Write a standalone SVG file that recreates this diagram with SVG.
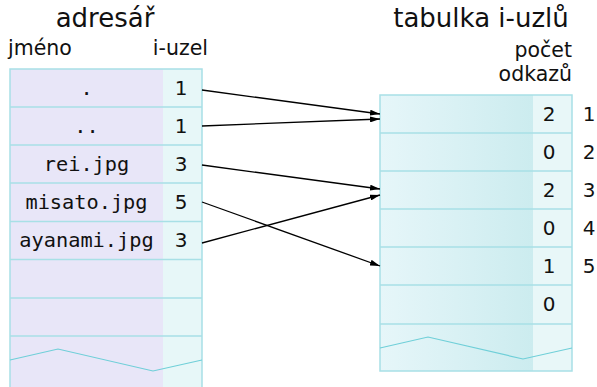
<svg xmlns="http://www.w3.org/2000/svg" width="597" height="387" viewBox="0 0 597 387">
<style>
.t{font-family:"DejaVu Sans",sans-serif;fill:#111}
.title{font-size:26px;text-anchor:middle}
.lbl{font-size:20.5px}
.mono{font-family:"DejaVu Sans Mono",monospace;font-size:20.3px;fill:#111;text-anchor:middle}
.num{font-size:20px;text-anchor:middle}
.grid{stroke:#a8e0e6;stroke-width:1.5;fill:none}
.wave{stroke:#6fcfd8;stroke-width:1.2;fill:none}
.conn{stroke:#000;stroke-width:1.3;fill:none;marker-end:url(#ah)}
</style>
<defs>
<linearGradient id="g" x1="0" x2="1" y1="0" y2="0">
<stop offset="0" stop-color="#e6f6f9"/>
<stop offset="1" stop-color="#ccecef"/>
</linearGradient>
<marker id="ah" viewBox="0 0 10 6" refX="10" refY="3" markerWidth="10" markerHeight="6" markerUnits="userSpaceOnUse" orient="auto">
<path d="M0,0 L10,3 L0,6 z" fill="#000"/>
</marker>
</defs>
<text class="t title" x="105" y="27">adresář</text>
<text class="t title" x="481" y="27">tabulka i-uzlů</text>
<text class="t lbl" x="8" y="55">jméno</text>
<text class="t lbl" x="208" y="55" text-anchor="end">i-uzel</text>
<text class="t lbl" x="572" y="57" text-anchor="end">počet</text>
<text class="t lbl" x="572" y="81" text-anchor="end">odkazů</text>
<g id="adresar">
<rect x="10" y="69" width="153" height="320" fill="#e8e6f8"/>
<rect x="163" y="69" width="39" height="320" fill="#e7f7f8"/>
<path class="grid" d="M10,389 V69 H202 V389 M10,107 H202 M10,145 H202 M10,183 H202 M10,221.5 H202 M10,259.5 H202 M10,298 H202 M10,336 H202"/>
<path class="wave" d="M10,360 L58,349 L153,371 L202,360"/>
<text class="mono" x="86.5" y="95">.</text>
<text class="mono" x="86.5" y="133">..</text>
<text class="mono" x="86.5" y="171">rei.jpg</text>
<text class="mono" x="86.5" y="209">misato.jpg</text>
<text class="mono" x="86.5" y="247">ayanami.jpg</text>
<text class="t num" x="181" y="95">1</text>
<text class="t num" x="181" y="133">1</text>
<text class="t num" x="181" y="171">3</text>
<text class="t num" x="181" y="209">5</text>
<text class="t num" x="181" y="247">3</text>
</g>
<g id="inody">
<rect x="380" y="95" width="153" height="276" fill="url(#g)"/>
<rect x="533" y="95" width="39" height="276" fill="#e8f7f8"/>
<path class="grid" d="M380,95 H572 V371 H380 Z M380,133 H572 M380,171 H572 M380,209 H572 M380,247 H572 M380,285 H572 M380,324 H572"/>
<path class="wave" d="M380,348 L428,337 L523,359 L572,348"/>
<text class="t num" x="549" y="121">2</text>
<text class="t num" x="549" y="159">0</text>
<text class="t num" x="549" y="197">2</text>
<text class="t num" x="549" y="235">0</text>
<text class="t num" x="549" y="273">1</text>
<text class="t num" x="549" y="311">0</text>
<text class="t num" x="589" y="121">1</text>
<text class="t num" x="589" y="159">2</text>
<text class="t num" x="589" y="197">3</text>
<text class="t num" x="589" y="235">4</text>
<text class="t num" x="589" y="273">5</text>
</g>
<g id="connectors">
<path class="conn" d="M202,90 L380,114"/>
<path class="conn" d="M202,126 L380,119"/>
<path class="conn" d="M202,165 L380,189"/>
<path class="conn" d="M202,202 L380,266"/>
<path class="conn" d="M202,243 L380,195"/>
</g>
</svg>
